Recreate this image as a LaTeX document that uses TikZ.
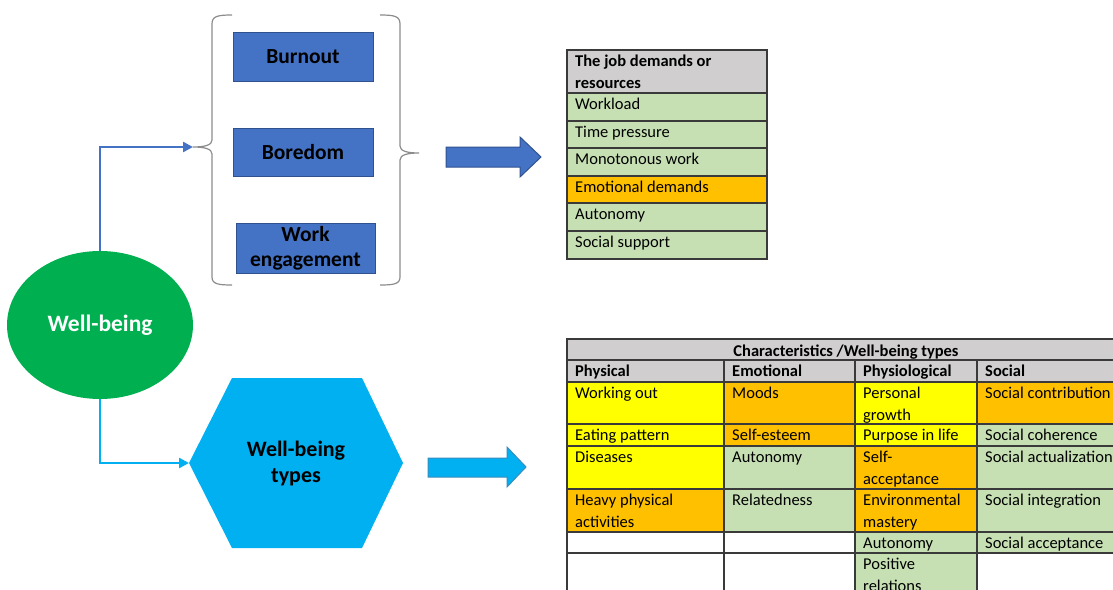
\documentclass[tikz,border=0pt]{standalone}
\usepackage{fontspec}
\setmainfont{Carlito}
\usetikzlibrary{arrows.meta,shapes.geometric}
\definecolor{boxblue}{HTML}{4472C4}
\definecolor{boxedge}{HTML}{2F528F}
\definecolor{skyblue}{HTML}{00B0F0}
\definecolor{skyedge}{HTML}{3A8CBF}
\definecolor{wbgreen}{HTML}{00B050}
\definecolor{cellgreen}{HTML}{C6E0B4}
\definecolor{cellorange}{HTML}{FFC000}
\definecolor{cellyellow}{HTML}{FFFF00}
\definecolor{headgray}{HTML}{D0CECE}
\definecolor{gridline}{HTML}{3A3A3A}
\definecolor{bracegray}{HTML}{8C8C8C}
\begin{document}
\begin{tikzpicture}[x=1pt,y=-1pt,
  cell/.style={anchor=north west, inner sep=0pt, align=left,
    font=\fontsize{16.5}{22}\selectfont},
  boldcell/.style={cell, font=\bfseries\fontsize{16.5}{22}\selectfont},
  grid/.style={draw=gridline, line width=1.3pt},
  factor/.style={rectangle, fill=boxblue, draw=boxedge, line width=0.8pt,
    inner sep=0pt, align=center, font=\bfseries\fontsize{21.5}{25}\selectfont},
  conn/.style={line width=2.4pt, -{Triangle[length=10pt,width=10pt]}},
  brace/.style={draw=bracegray, line width=1.2pt},
  blockarrow/.style={line width=1pt, line join=miter}]
\useasboundingbox (0,0) rectangle (1113,589);
\clip (0,0) rectangle (1113,589);

% ---- well-being hub and its two branches ----
\node[ellipse, fill=wbgreen, minimum width=186pt, minimum height=148pt, inner sep=0pt,
  text=white, font=\bfseries\fontsize{23.5}{28}\selectfont] (wb) at (100,325) {Well-being};

\fill[skyblue] (189,463) -- (232,378) -- (362,378) -- (403,463) -- (362,548) -- (232,548) -- cycle;
\coordinate (hexL) at (189,463);
\node[align=center, font=\bfseries\fontsize{22}{26}\selectfont] (types) at (296,464) {Well-being\\types};

% ---- outcome boxes between braces ----
\node[factor, minimum width=140pt, minimum height=49pt] (burnout) at (303,56.5) {Burnout};
\node[factor, minimum width=140pt, minimum height=48pt] (boredom) at (303,152) {Boredom};
\node[factor, minimum width=139pt, minimum height=50pt] (engage) at (305.5,248) {Work\\engagement};

\path[brace] (232,15) .. controls (218,15) and (212,16) .. (212,24) -- (212,140)
  .. controls (212,145) and (205,147) .. (193,147)
  .. controls (205,147) and (212,149) .. (212,154) -- (212,277)
  .. controls (212,284) and (218,285) .. (232,285);
\coordinate (lbrace) at (193,147);
\path[brace] (380,15) .. controls (394,15) and (400,16) .. (400,24) -- (400,146)
  .. controls (400,151) and (407,153) .. (419,153)
  .. controls (407,153) and (400,155) .. (400,160) -- (400,277)
  .. controls (400,284) and (394,285) .. (380,285);

\draw[conn, boxblue] (wb.north) |- (lbrace);
\draw[conn, skyblue] (wb.south) |- (hexL);

% ---- block arrows ----
\filldraw[blockarrow, fill=boxblue, draw=boxedge]
  (446,147) -- (520,147) -- (520,137) -- (541,157) -- (520,177) -- (520,167) -- (446,167) -- cycle;
\filldraw[blockarrow, fill=skyblue, draw=skyedge]
  (428,458) -- (507,458) -- (507,447) -- (526,467) -- (507,487) -- (507,477) -- (428,477) -- cycle;

% ---- job demands / resources table ----
\fill[headgray] (567,50) rectangle (767,93);
\fill[cellgreen] (567,93) rectangle (767,176);
\fill[cellorange] (567,176) rectangle (767,203);
\fill[cellgreen] (567,203) rectangle (767,259);
\foreach \y in {93,121,148,176,203,231} \draw[grid] (567,\y) -- (767,\y);
\draw[grid] (567,50) rectangle (767,259);
\node[boldcell] (jdr) at (575,51) {\strut The job demands or\\\strut resources};
\node[cell] (jdr1) at (575,94) {\strut Workload};
\node[cell] (jdr2) at (575,122) {\strut Time pressure};
\node[cell] (jdr3) at (575,149) {\strut Monotonous work};
\node[cell] (jdr4) at (575,177) {\strut Emotional demands};
\node[cell] (jdr5) at (575,204) {\strut Autonomy};
\node[cell] (jdr6) at (575,232) {\strut Social support};

% ---- characteristics table ----
\fill[headgray] (567,339) rectangle (1125,382);
% row 1
\fill[cellyellow] (567,382) rectangle (724,424);
\fill[cellorange] (724,382) rectangle (855,424);
\fill[cellyellow] (855,382) rectangle (977,424);
\fill[cellorange] (977,382) rectangle (1125,424);
% row 2
\fill[cellyellow] (567,424) rectangle (724,446);
\fill[cellorange] (724,424) rectangle (855,446);
\fill[cellyellow] (855,424) rectangle (977,446);
\fill[cellgreen] (977,424) rectangle (1125,446);
% row 3
\fill[cellyellow] (567,446) rectangle (724,489);
\fill[cellgreen] (724,446) rectangle (855,489);
\fill[cellorange] (855,446) rectangle (977,489);
\fill[cellgreen] (977,446) rectangle (1125,489);
% row 4
\fill[cellorange] (567,489) rectangle (724,532);
\fill[cellgreen] (724,489) rectangle (855,532);
\fill[cellorange] (855,489) rectangle (977,532);
\fill[cellgreen] (977,489) rectangle (1125,532);
% rows 5 and 6
\fill[cellgreen] (855,532) rectangle (1125,553);
\fill[cellgreen] (855,553) rectangle (977,600);

\foreach \y in {360,382,424,446,489,532,553} \draw[grid] (567,\y) -- (1125,\y);
\foreach \x in {724,855,977} \draw[grid] (\x,360) -- (\x,600);
\draw[grid] (567,339) rectangle (1125,600);

\node[boldcell, anchor=north] (ctitle) at (846,340.5) {\strut Characteristics /Well-being types};
\node[boldcell] (hphys) at (575,361) {\strut Physical};
\node[boldcell] (hemo) at (732,361) {\strut Emotional};
\node[boldcell] (hphysio) at (863,361) {\strut Physiological};
\node[boldcell] (hsoc) at (985,361) {\strut Social};

\node[cell] (a1) at (575,383) {\strut Working out};
\node[cell] (b1) at (732,383) {\strut Moods};
\node[cell] (c1) at (863,383) {\strut Personal\\\strut growth};
\node[cell] (d1) at (985,383) {\strut Social contribution};

\node[cell] (a2) at (575,425) {\strut Eating pattern};
\node[cell] (b2) at (732,425) {\strut Self-esteem};
\node[cell] (c2) at (863,425) {\strut Purpose in life};
\node[cell] (d2) at (985,425) {\strut Social coherence};

\node[cell] (a3) at (575,447) {\strut Diseases};
\node[cell] (b3) at (732,447) {\strut Autonomy};
\node[cell] (c3) at (863,447) {\strut Self-\\\strut acceptance};
\node[cell] (d3) at (985,447) {\strut Social actualization};

\node[cell] (a4) at (575,490) {\strut Heavy physical\\\strut activities};
\node[cell] (b4) at (732,490) {\strut Relatedness};
\node[cell] (c4) at (863,490) {\strut Environmental\\\strut mastery};
\node[cell] (d4) at (985,490) {\strut Social integration};

\node[cell] (c5) at (863,533) {\strut Autonomy};
\node[cell] (d5) at (985,533) {\strut Social acceptance};

\node[cell] (c6) at (863,554) {\strut Positive\\\strut relations};
\end{tikzpicture}
\end{document}
